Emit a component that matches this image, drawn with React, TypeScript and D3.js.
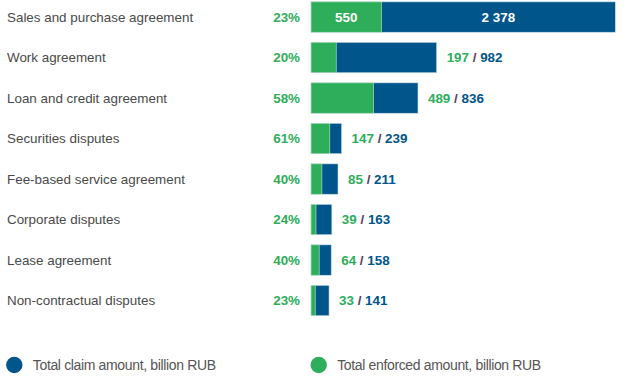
import React from "react";
import * as d3 from "d3";

const categories = [
  "Sales and purchase agreement",
  "Work agreement",
  "Loan and credit agreement",
  "Securities disputes",
  "Fee-based service agreement",
  "Corporate disputes",
  "Lease agreement",
  "Non-contractual disputes",
];
const claimed = [2378, 982, 836, 239, 211, 163, 158, 141];
const enforced = [550, 197, 489, 147, 85, 39, 64, 33];
const shares = ["23%", "20%", "58%", "61%", "40%", "24%", "40%", "23%"];
const claimLabels = ["2 378", "982", "836", "239", "211", "163", "158", "141"];
const legendLabels = ["Total claim amount, billion RUB", "Total enforced amount, billion RUB"];

const BLUE = "#00558b";
const GREEN = "#2eae5b";
const FONT = "'Liberation Sans', Arial, sans-serif";

export default function App() {
  const W = 630, H = 385;
  const x = d3.scaleLinear().domain([0, 2378]).range([311, 615.3]);
  const y = d3.scaleBand<number>().domain(d3.range(categories.length)).range([-3.2, 320.8]).paddingInner(0.25).paddingOuter(0.125);
  const bh = y.bandwidth();
  const legendX = [14.3, 318.7];
  const legendColors = [BLUE, GREEN];
  return (
    <svg width={W} height={H} style={{ position: "absolute", left: 0, top: 0 }} fontFamily={FONT}>
      <rect width={W} height={H} fill="#fff" />
      {categories.map((c, i) => {
        const y0 = y(i)!;
        const cy = y0 + bh / 2;
        const xe = x(enforced[i]);
        const xc = x(claimed[i]);
        return (
          <g key={c}>
            <text x={7} y={cy} dy="0.35em" fontSize={13.4} fill="#4a4a4a">{c}</text>
            <text x={300} y={cy} dy="0.35em" fontSize={13.4} fontWeight="bold" fill={GREEN} textAnchor="end">{shares[i]}</text>
            <rect x={x(0)} y={y0} width={xc - x(0)} height={bh} fill={BLUE} stroke="#c9dbe8" strokeWidth={0.6} />
            <rect x={x(0)} y={y0} width={xe - x(0)} height={bh} fill={GREEN} stroke="#c9e8d3" strokeWidth={0.6} />
            {i === 0 ? (
              <>
                <text x={(x(0) + xe) / 2} y={cy} dy="0.35em" fontSize={13.4} fontWeight="bold" fill="#fff" textAnchor="middle">{enforced[i]}</text>
                <text x={(xe + xc) / 2} y={cy} dy="0.35em" fontSize={13.4} fontWeight="bold" fill="#fff" textAnchor="middle">{claimLabels[i]}</text>
              </>
            ) : (
              <text x={xc + 10} y={cy} dy="0.35em" fontSize={13.4} fontWeight="bold">
                <tspan fill={GREEN}>{enforced[i]}</tspan>
                <tspan fill="#5a3d5c"> / </tspan>
                <tspan fill={BLUE}>{claimLabels[i]}</tspan>
              </text>
            )}
          </g>
        );
      })}
      {legendLabels.map((l, i) => (
        <g key={l}>
          <circle cx={legendX[i]} cy={365} r={8.2} fill={legendColors[i]} />
          <text x={legendX[i] + 18.5} y={365} dy="0.35em" fontSize={14} letterSpacing={-0.35} fill="#555">{l}</text>
        </g>
      ))}
    </svg>
  );
}
